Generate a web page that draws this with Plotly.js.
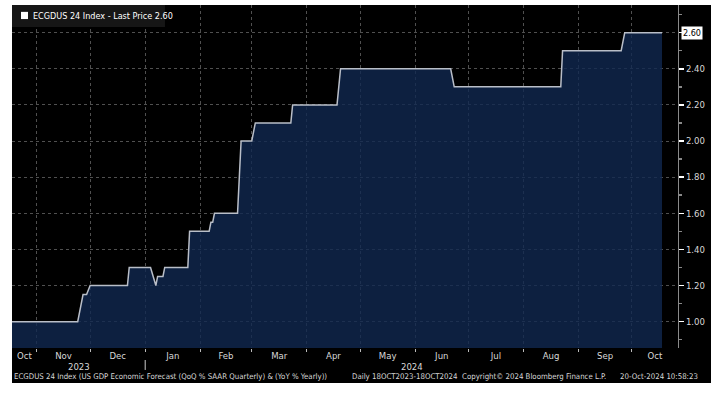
<!DOCTYPE html>
<html>
<head>
<meta charset="utf-8">
<script src="https://cdn.plot.ly/plotly-3.0.1.min.js"></script>
<style>
  html, body { margin: 0; padding: 0; background: #ffffff; width: 711px; height: 396px; overflow: hidden; }
  #chart { position: absolute; left: 12px; top: 5px; width: 699px; height: 378px; }
</style>
</head>
<body>
<div id="chart"></div>
<script>
// ---- data ----
const dates = [
  '2023-10-18','2023-11-24','2023-11-27','2023-11-29','2023-12-01','2023-12-22','2023-12-23',
  '2024-01-04','2024-01-07','2024-01-08','2024-01-11','2024-01-12','2024-01-25','2024-01-26',
  '2024-02-06','2024-02-07','2024-02-08','2024-02-09','2024-02-22','2024-02-24','2024-03-01',
  '2024-03-03','2024-03-23','2024-03-24','2024-04-18','2024-04-20','2024-06-21','2024-06-23',
  '2024-08-22','2024-08-23','2024-09-25','2024-09-27','2024-10-18'
];
const values = [
  1.00, 1.00, 1.15, 1.15, 1.20, 1.20, 1.30,
  1.30, 1.20, 1.25, 1.25, 1.30, 1.30, 1.50,
  1.50, 1.55, 1.55, 1.60, 1.60, 2.00, 2.00,
  2.10, 2.10, 2.20, 2.20, 2.40, 2.40, 2.30,
  2.30, 2.50, 2.50, 2.60, 2.60
];
const seriesName = 'ECGDUS 24 Index - Last Price 2.60';
const lastPriceText = '2.60';
const lastPrice = 2.60;
const monthStarts = ['2023-10-01','2023-11-01','2023-12-01','2024-01-01','2024-02-01','2024-03-01',
  '2024-04-01','2024-05-01','2024-06-01','2024-07-01','2024-08-01','2024-09-01','2024-10-01','2024-11-01'];
const monthLabels = ['Oct','Nov','Dec','Jan','Feb','Mar','Apr','May','Jun','Jul','Aug','Sep','Oct'];
const yearStarts = ['2023-01-01','2024-01-01','2025-01-01'];
const yearLabels = ['2023','2024'];
const yTicks = [1.0, 1.2, 1.4, 1.6, 1.8, 2.0, 2.2, 2.4, 2.6];
const xRange = ['2023-10-18', '2024-10-27'];
const yRange = [0.854, 2.753];
const footerParts = [
  'ECGDUS 24 Index (US GDP Economic Forecast (QoQ % SAAR Quarterly) & (YoY % Yearly))',
  'Daily 18OCT2023-18OCT2024',
  'Copyright\u00A9 2024 Bloomberg Finance L.P.',
  '20-Oct-2024 10:58:23'
];
const footerX = [0, 0.5075, 0.6727, 0.91];

// ---- helpers ----
const ms = s => Date.parse(s);
const r0 = ms(xRange[0]), r1 = ms(xRange[1]);
function visibleMid(a, b) {
  const lo = Math.max(ms(a), r0), hi = Math.min(ms(b), r1);
  return (lo + hi) / 2;
}
const monthMid = monthLabels.map((_, i) => visibleMid(monthStarts[i], monthStarts[i + 1]));
const yearMid = yearLabels.map((_, i) => visibleMid(yearStarts[i], yearStarts[i + 1]));
const gridTicks = monthStarts.slice(1, monthStarts.length - 1).map(ms);

const FONT = '"Liberation Sans Narrow", "DejaVu Sans Condensed", "Arial Narrow", "DejaVu Sans", sans-serif';

const traces = [
  {
    x: dates, y: values, type: 'scatter', mode: 'lines',
    line: { color: '#b9bec8', width: 1.5, shape: 'linear' },
    fill: 'tozeroy', fillcolor: 'rgba(16,40,80,0.80)',
    hoverinfo: 'skip', showlegend: false
  },
  {
    x: [dates[0]], y: [values[0]], xaxis: 'x2', yaxis: 'y',
    type: 'scatter', mode: 'none', hoverinfo: 'skip', showlegend: false
  }
];

const annotations = [];
annotations.push({
  xref: 'paper', yref: 'paper', x: 0.0285, y: 0.969, xanchor: 'left', yanchor: 'middle',
  text: seriesName, showarrow: false, font: { family: FONT, size: 9, color: '#ffffff' }
});
yearLabels.forEach((t, i) => annotations.push({
  xref: 'x', yref: 'paper', x: yearMid[i], y: -0.0525, xanchor: 'center', yanchor: 'middle',
  text: t, showarrow: false, font: { family: FONT, size: 9.5, color: '#d8d8d8' }
}));
footerParts.forEach((t, i) => annotations.push({
  xref: 'paper', yref: 'paper', x: footerX[i], y: -0.0845, xanchor: 'left', yanchor: 'middle',
  text: t, showarrow: false, font: { family: FONT, size: 7.8, color: '#d8d8d8' }
}));
annotations.push({
  xref: 'paper', yref: 'y', x: 1.0045, y: lastPrice, xanchor: 'left', yanchor: 'middle',
  text: lastPriceText, showarrow: false, bgcolor: '#ffffff', borderpad: 1,
  font: { family: FONT, size: 9, color: '#000000' }
});

const shapes = [
  { type: 'rect', xref: 'paper', yref: 'paper', x0: 0, x1: 0.2297, y0: 0.936, y1: 1,
    fillcolor: '#161616', line: { width: 0 }, layer: 'above' },
  { type: 'rect', xref: 'paper', yref: 'paper', x0: 0.0135, x1: 0.024, y0: 0.959, y1: 0.98,
    fillcolor: '#ffffff', line: { width: 0 }, layer: 'above' },
  { type: 'line', xref: 'x', yref: 'paper', x0: yearStarts[1], x1: yearStarts[1], y0: -0.035, y1: -0.064,
    line: { color: '#cccccc', width: 1 } }
];

const layout = {
  width: 699, height: 378,
  margin: { l: 0, r: 33, t: 0, b: 35, pad: 0 },
  paper_bgcolor: '#000000', plot_bgcolor: '#000000',
  showlegend: false,
  font: { family: FONT, color: '#d8d8d8', size: 9 },
  xaxis: {
    type: 'date', range: xRange,
    tickmode: 'array', tickvals: gridTicks, showticklabels: false,
    ticks: 'outside', ticklen: 3, tickcolor: '#bbbbbb', tickwidth: 1,
    showgrid: true, gridcolor: '#505050', griddash: 'dot', gridwidth: 1,
    showline: false, zeroline: false, fixedrange: true
  },
  xaxis2: {
    type: 'date', range: xRange, overlaying: 'x', anchor: 'y', side: 'bottom',
    tickmode: 'array', tickvals: monthMid, ticktext: monthLabels,
    ticks: '', showgrid: false, showline: false, zeroline: false,
    tickfont: { family: FONT, size: 9.5, color: '#d8d8d8' }, fixedrange: true
  },
  yaxis: {
    side: 'right', range: yRange,
    tickmode: 'array', tickvals: yTicks,
    ticktext: yTicks.map(v => (Math.abs(v - lastPrice) < 1e-9 ? '' : v.toFixed(2))),
    ticks: 'outside', ticklen: 5, tickwidth: 1.5, tickcolor: '#ffffff',
    tickfont: { family: FONT, size: 9.5, color: '#d8d8d8' },
    showgrid: true, gridcolor: '#505050', griddash: 'dot', gridwidth: 1,
    showline: true, linecolor: '#8a8a8a', linewidth: 1,
    minor: { tickmode: 'linear', tick0: 0.9, dtick: 0.2, ticks: 'outside', ticklen: 3, tickcolor: '#888888', showgrid: false },
    zeroline: false, fixedrange: true
  },
  annotations: annotations,
  shapes: shapes
};

Plotly.newPlot('chart', traces, layout, { displayModeBar: false, staticPlot: true });
</script>
</body>
</html>
